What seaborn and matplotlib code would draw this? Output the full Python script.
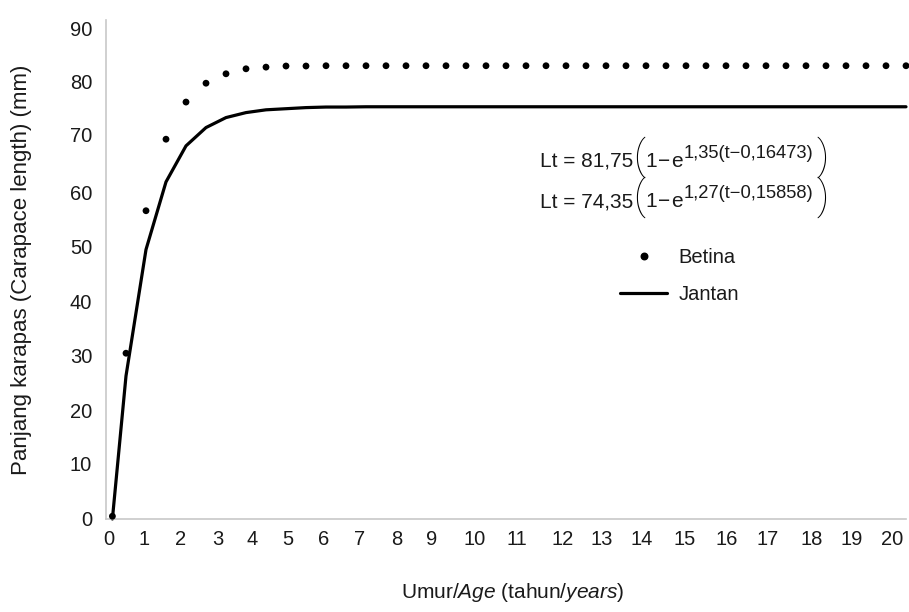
import numpy as np
import pandas as pd
import matplotlib
matplotlib.use("Agg")
import matplotlib.pyplot as plt
import matplotlib.transforms as mtrans
import seaborn as sns
from matplotlib.lines import Line2D

# ---- data ----
ages = [0.16, 0.5, 1.0, 1.5, 2.0, 2.5, 3.0, 3.5, 4.0, 4.5, 5.0,
        5.5, 6.0, 6.5, 7.0, 7.5, 8.0, 8.5, 9.0, 9.5, 10.0,
        10.5, 11.0, 11.5, 12.0, 12.5, 13.0, 13.5, 14.0, 14.5, 15.0,
        15.5, 16.0, 16.5, 17.0, 17.5, 18.0, 18.5, 19.0, 19.5, 20.0]
betina = [0.5, 29.9, 55.6, 68.5, 75.2, 78.6, 80.3, 81.2, 81.5, 81.7, 81.7,
          81.75, 81.75, 81.75, 81.75, 81.75, 81.75, 81.75, 81.75, 81.75, 81.75,
          81.75, 81.75, 81.75, 81.75, 81.75, 81.75, 81.75, 81.75, 81.75, 81.75,
          81.75, 81.75, 81.75, 81.75, 81.75, 81.75, 81.75, 81.75, 81.75, 81.75]
jantan = [0.0, 25.8, 48.6, 60.8, 67.3, 70.6, 72.4, 73.3, 73.8, 74.0, 74.2,
          74.3, 74.3, 74.35, 74.35, 74.35, 74.35, 74.35, 74.35, 74.35, 74.35,
          74.35, 74.35, 74.35, 74.35, 74.35, 74.35, 74.35, 74.35, 74.35, 74.35,
          74.35, 74.35, 74.35, 74.35, 74.35, 74.35, 74.35, 74.35, 74.35, 74.35]
x_ticks = list(range(0, 21))
y_ticks = [0, 10, 20, 30, 40, 50, 60, 70, 80, 90]
labels = ["Betina", "Jantan"]
# equation pieces: (lead, exponent) for Betina and Jantan
eq_lead = ["Lt = 81,75", "Lt = 74,35"]
eq_exp = ["1,35(t\u22120,16473)", "1,27(t\u22120,15858)"]

# label placement quirks of the reference (pixel shifts of tick labels)
x_label_shift_px = [3, -2, -5, -8, -14, -18, -22, -26, -29, -34, -31,
                    -29, -23, -24, -24, -21, -19, -18, -14, -14, -14]
y_label_shift_px = [-1, 0, 2, 3, 4, 5, 6.5, 4, 6.5, 8]

df = pd.DataFrame({"age": ages, "Betina": betina, "Jantan": jantan})

sns.set_theme(style="white")
FONT = ["Liberation Sans", "DejaVu Sans"]
plt.rcParams["font.family"] = FONT
plt.rcParams["mathtext.fontset"] = "custom"
plt.rcParams["mathtext.rm"] = "Liberation Sans"
plt.rcParams["mathtext.it"] = "Liberation Sans:italic"
plt.rcParams["mathtext.bf"] = "Liberation Sans:bold"

W, H = 909, 612
fig = plt.figure(figsize=(W/100, H/100), dpi=100)
ax = fig.add_axes([106/W, 1-519/H, 800/W, 499/H])

sns.lineplot(data=df, x="age", y="Jantan", ax=ax, color="black", linewidth=2.3,
             sort=True, estimator=None, clip_on=False)
sns.scatterplot(data=df, x="age", y="Betina", ax=ax, color="black", s=24,
                edgecolor="none", clip_on=False, zorder=3)

ax.set_xlim(0, 20)
ax.set_ylim(0, 90)
ax.set_xticks(x_ticks)
ax.set_yticks(y_ticks)
ax.tick_params(axis="both", length=0, labelsize=14.5, colors="#1a1a1a")
ax.tick_params(axis="x", pad=8)
ax.tick_params(axis="y", pad=10)

for s in ["top", "right"]:
    ax.spines[s].set_visible(False)
for s in ["left", "bottom"]:
    ax.spines[s].set_color("#c8c8c8")
    ax.spines[s].set_linewidth(1.2)

for lab, dx in zip(ax.get_xticklabels(), x_label_shift_px):
    lab.set_transform(lab.get_transform() +
                      mtrans.ScaledTranslation(dx/100, 0, fig.dpi_scale_trans))
for lab, dy in zip(ax.get_yticklabels(), y_label_shift_px):
    lab.set_transform(lab.get_transform() +
                      mtrans.ScaledTranslation(0, -dy/100, fig.dpi_scale_trans))

ax.set_ylabel("Panjang karapas (Carapace length) (mm)", fontsize=16, color="#1a1a1a")
ax.yaxis.set_label_coords(-0.092, 0.5)
ax.set_xlabel(r"Umur/$\mathit{Age}$ (tahun/$\mathit{years}$)", fontsize=15, color="#1a1a1a")
ax.xaxis.set_label_coords(0.508, -0.125)

# growth equations, composed from pieces (pixel layout)
def ptext(x, y, s, **kw):
    kw.setdefault("color", "#1a1a1a")
    fig.text(x/W, 1-y/H, s, va="baseline", ha="left", **kw)

PAREN = dict(fontsize=29, family=["Roboto", "Liberation Sans"], fontweight="light",
             color="black")
for i, base in enumerate([167, 207]):
    ptext(540, base, eq_lead[i], fontsize=15)
    ptext(633, base + 2, "(", **PAREN)
    ptext(645, base, "1", fontsize=15)
    ptext(658, base, "\u2212", fontsize=15)
    ptext(671, base, "e", fontsize=15)
    ptext(684, base - 9, eq_exp[i], fontsize=13.2)
    ptext(816, base + 2, ")", **PAREN)

handles = [Line2D([], [], linestyle="none", marker="o", markersize=4.7, color="black"),
           Line2D([], [], color="black", linewidth=2.3)]
leg = ax.legend(handles, labels, loc="upper left",
                bbox_to_anchor=((612-106)/800, (519-240)/499),
                frameon=False, fontsize=14.5, handlelength=2.34, handletextpad=0.55,
                labelspacing=0.9, borderaxespad=0)
for t in leg.get_texts():
    t.set_color("#1a1a1a")

fig.savefig("out.png", dpi=100, facecolor="white")
